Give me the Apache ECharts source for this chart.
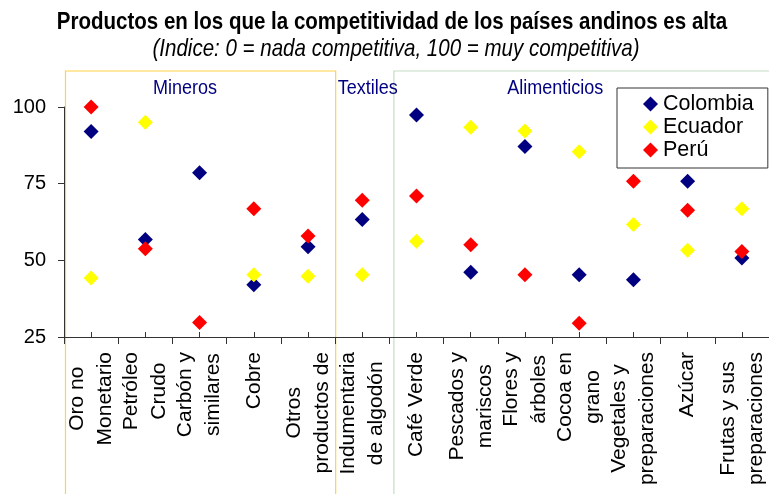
<!DOCTYPE html>
<html>
<head>
<meta charset="utf-8">
<script src="https://cdn.jsdelivr.net/npm/echarts@6/dist/echarts.min.js"></script>
<style>html,body{margin:0;padding:0;background:#fff}#c{width:769px;height:494px}</style>
</head>
<body>
<div id="c"></div>
<script>
const categories = ['Oro no\nMonetario', 'Petróleo\nCrudo', 'Carbón y\nsimilares', 'Cobre', 'Otros\nproductos de', 'Indumentaria\nde algodón', 'Café Verde', 'Pescados y\nmariscos', 'Flores y\nárboles', 'Cocoa en\ngrano', 'Vegetales y\npreparaciones', 'Azúcar', 'Frutas y sus\npreparaciones'];
const seriesNames = ['Colombia', 'Ecuador', 'Perú'];
const colombia = [92, 56.8, 78.6, 42, 54.4, 63.3, 97.4, 46.1, 87.1, 45.3, 43.7, 75.8, 50.8];
const ecuador = [44.2, 95, null, 45.3, 44.8, 45.3, 56.2, 93.4, 92.2, 85.4, 61.7, 53.3, 66.8];
const peru = [100, 53.8, 29.7, 66.8, 57.9, 69.6, 71, 55.1, 45.3, 29.5, 75.8, 66.3, 52.9];
const yTicks = [25, 50, 75, 100];
const groupNames = ['Mineros', 'Textiles', 'Alimenticios'];
const groupFirst = [0, 5, 6];
const groupLast = [4, 5, 12];
const titleText = 'Productos en los que la competitividad de los países andinos es alta';
const subtitleText = '(Indice: 0 = nada competitiva, 100 = muy competitiva)';

const chart = echarts.init(document.getElementById('c'), null, {renderer: 'canvas'});
const FONT = '"Liberation Sans", Arial, sans-serif';
const colors = ['#000080', '#FFFF00', '#FF0000'];
const values = [colombia, ecuador, peru];

chart.setOption({
  animation: false,
  backgroundColor: '#fff',
  legend: {
    data: seriesNames, orient: 'vertical', left: 617, top: 88,
    padding: [5, 14, 7, 26], itemGap: 1, itemWidth: 15, itemHeight: 15, icon: 'diamond',
    backgroundColor: '#fff', borderColor: '#333', borderWidth: 1,
    textStyle: {fontFamily: FONT, fontSize: 21.5, color: '#000'}
  },
  grid: {left: 64, top: 107, width: 712, height: 230, containLabel: false},
  xAxis: [
    {type: 'category', data: categories, boundaryGap: true,
     axisLine: {show: true, lineStyle: {color: '#333', width: 1}},
     axisTick: {show: true, interval: 0, length: 7, inside: false, lineStyle: {color: '#333'}},
     axisLabel: {interval: 0, rotate: 90, margin: 15, color: '#000',
       formatter: v => v.split('\n').map(s => '{c|' + s + '}').join('\n'),
       rich: {c: {align: 'center', fontFamily: FONT, fontSize: 21, lineHeight: 28, color: '#000'}}},
     splitLine: {show: false}},
    {type: 'category', data: categories, boundaryGap: true, position: 'bottom', offset: 0,
     axisLine: {show: false},
     axisTick: {show: true, alignWithLabel: true, interval: 0, length: 5, inside: true, lineStyle: {color: '#333'}},
     axisLabel: {show: false}, splitLine: {show: false}}
  ],
  yAxis: {
    type: 'value', min: yTicks[0], max: yTicks[yTicks.length - 1], interval: 25,
    axisLine: {show: true, lineStyle: {color: '#333'}},
    axisTick: {show: true, length: 6, inside: false, lineStyle: {color: '#333'}},
    axisLabel: {margin: 18, fontFamily: FONT, fontSize: 20, color: '#000'},
    splitLine: {show: false}
  },
  series: seriesNames.map((n, i) => ({
    name: n, type: 'scatter', xAxisIndex: 0, symbol: 'diamond', symbolSize: 15,
    itemStyle: {color: colors[i], opacity: 1}, data: values[i], clip: false, z: 3 + i
  }))
});

// Group boxes, positioned from the category axis
function centerX(pos) {
  const c0 = chart.convertToPixel({xAxisIndex: 0}, categories[0]);
  const c1 = chart.convertToPixel({xAxisIndex: 0}, categories[1]);
  return c0 + pos * (c1 - c0);
}
function edgeX(idx, side) { return centerX(idx + side * 0.5); }
const boxTop = 71;
const labelPos = [1.73, 5.1, 8.56];
const graphics = [
  {type: 'text', silent: true, z: 10, x: 392, y: 22, scaleX: 0.855,
   style: {text: titleText, fontFamily: FONT, fontWeight: 'bold', fontSize: 24, fill: '#000', align: 'center', verticalAlign: 'middle'}},
  {type: 'text', silent: true, z: 10, x: 396, y: 49, scaleX: 0.855,
   style: {text: subtitleText, fontFamily: FONT, fontStyle: 'italic', fontSize: 24, fill: '#000', align: 'center', verticalAlign: 'middle'}},
  {type: 'rect', silent: true, z: 0, shape: {x: edgeX(groupFirst[0], -1) + 1.5, y: boxTop, width: edgeX(groupLast[0], 1) - edgeX(groupFirst[0], -1) - 1, height: 500 - boxTop},
   style: {fill: 'none', stroke: 'rgb(255,210,70)', lineWidth: 1.2}},
  {type: 'rect', silent: true, z: 0, shape: {x: edgeX(groupFirst[2], -1) + 4.5, y: boxTop, width: edgeX(groupLast[2], 1) - edgeX(groupFirst[2], -1) + 20, height: 500 - boxTop},
   style: {fill: 'none', stroke: 'rgb(195,222,195)', lineWidth: 1.2}}
];
groupNames.forEach((g, i) => {
  graphics.push({type: 'text', silent: true, z: 10, x: centerX(labelPos[i]), y: 88, scaleX: 0.9,
    style: {text: g, fontFamily: FONT, fontSize: 20, fill: '#000080', align: 'center', verticalAlign: 'middle'}});
});
chart.setOption({graphic: graphics});
</script>
</body>
</html>
